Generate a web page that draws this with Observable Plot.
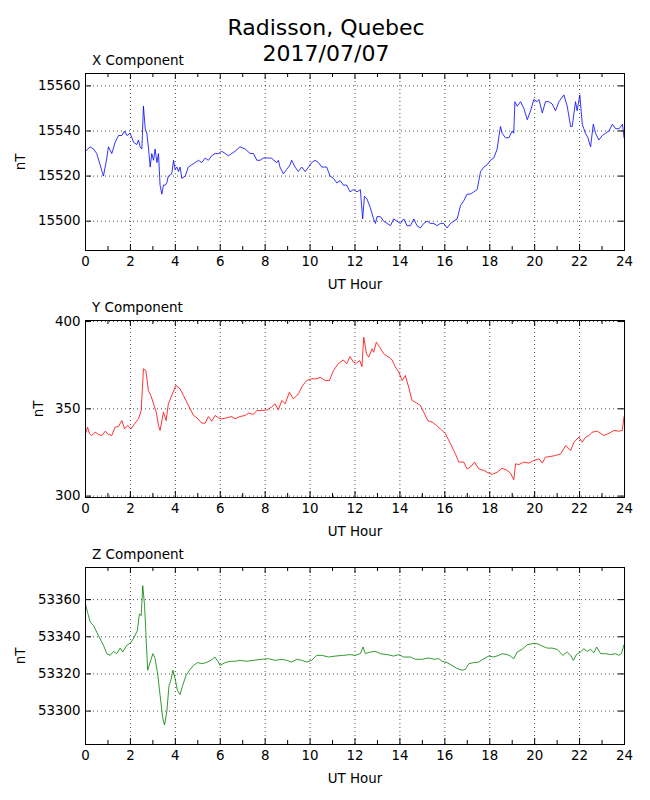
<!DOCTYPE html>
<html><head><meta charset="utf-8">
<script src="https://cdn.jsdelivr.net/npm/d3@7"></script>
<script src="https://cdn.jsdelivr.net/npm/@observablehq/plot@0.6"></script>
<style>
body{margin:0;background:#fff;font-family:"DejaVu Sans",sans-serif;}
#root{position:relative;width:650px;height:800px;overflow:hidden;background:#fff;}
.t{position:absolute;white-space:nowrap;color:#000;font-family:"DejaVu Sans",sans-serif;line-height:1.164;}
.p{position:absolute;left:0;}
</style></head><body><div id="root"></div>
<script>
// ---- data (UT hour, nT) ----
const xComponent = [[0.00,15531],[0.21,15533],[0.36,15532],[0.50,15530],[0.65,15525],[0.80,15520],[0.95,15528],[1.02,15533],[1.17,15530],[1.32,15535],[1.47,15538],[1.62,15538],[1.74,15540],[1.84,15538],[1.99,15539],[2.14,15535],[2.28,15534],[2.36,15536],[2.43,15533],[2.51,15532],[2.58,15551],[2.66,15541],[2.73,15539],[2.80,15533],[2.88,15524],[2.95,15530],[3.03,15527],[3.10,15532],[3.18,15526],[3.25,15530],[3.32,15516],[3.40,15512],[3.47,15516],[3.55,15516],[3.62,15517],[3.69,15520],[3.84,15521],[3.92,15527],[3.99,15523],[4.07,15524],[4.14,15522],[4.21,15524],[4.29,15519],[4.44,15520],[4.58,15524],[4.73,15525],[4.88,15526],[5.03,15527],[5.18,15526],[5.33,15528],[5.47,15527],[5.62,15529],[5.77,15530],[5.92,15530],[6.07,15531],[6.22,15530],[6.36,15529],[6.51,15530],[6.66,15531],[6.88,15533],[7.11,15532],[7.33,15530],[7.48,15530],[7.63,15527],[7.77,15527],[7.92,15528],[8.15,15528],[8.29,15528],[8.37,15527],[8.52,15526],[8.59,15527],[8.66,15524],[8.81,15521],[8.96,15523],[9.11,15525],[9.18,15527],[9.33,15524],[9.48,15522],[9.63,15524],[9.78,15522],[9.93,15524],[10.07,15526],[10.22,15527],[10.37,15526],[10.52,15524],[10.74,15524],[10.89,15520],[11.04,15519],[11.19,15517],[11.34,15518],[11.48,15516],[11.63,15516],[11.78,15513],[11.93,15514],
[12.09,15513],[12.24,15514],[12.34,15501],[12.42,15511],[12.53,15510],[12.68,15506],[12.83,15501],[12.91,15499],[12.98,15502],[13.13,15502],[13.28,15500],[13.43,15499],[13.58,15498],[13.72,15501],[13.87,15500],[14.02,15499],[14.17,15501],[14.32,15498],[14.47,15498],[14.62,15501],[14.76,15498],[14.91,15497],[15.06,15499],[15.21,15500],[15.36,15499],[15.51,15499],[15.66,15498],[15.80,15499],[15.95,15499],[16.10,15497],[16.25,15499],[16.40,15500],[16.55,15501],[16.70,15507],[16.84,15509],[16.99,15512],[17.14,15512],[17.29,15513],[17.44,15514],[17.59,15522],[17.74,15524],[17.88,15525],[18.03,15527],[18.18,15528],[18.33,15532],[18.40,15537],[18.48,15542],[18.55,15539],[18.70,15537],[18.85,15537],[19.00,15540],[19.07,15539],[19.12,15553],[19.22,15551],[19.37,15553],[19.52,15550],[19.67,15545],[19.82,15549],[19.96,15554],[20.11,15553],[20.19,15554],[20.34,15548],[20.48,15553],[20.63,15553],[20.78,15552],[20.93,15549],[21.08,15553],[21.30,15556],[21.45,15551],[21.60,15542],[21.67,15542],[21.82,15553],[21.89,15549],[22.01,15556],[22.12,15543],[22.19,15541],[22.26,15539],[22.37,15537],[22.49,15533],[22.61,15543],[22.71,15539],[22.86,15536],[23.01,15538],[23.16,15539],[23.31,15540],[23.46,15543],[23.61,15541],[23.76,15541],[23.91,15543],[23.98,15537]];

const yComponent = [[0.00,335.7],[0.09,339.5],[0.18,335.7],[0.28,334.7],[0.43,336.6],[0.58,335.3],[0.73,334.7],[0.88,337.2],[1.02,335.3],[1.17,334.7],[1.32,339.5],[1.47,339.9],[1.62,343.3],[1.74,338.5],[1.88,340.5],[2.03,338.5],[2.18,341.4],[2.36,344.3],[2.48,349],[2.58,372.9],[2.69,371.9],[2.80,360.5],[2.91,357.6],[3.03,352.9],[3.15,348.1],[3.25,340.5],[3.32,337.6],[3.47,348.1],[3.59,343.3],[3.69,352.9],[3.84,357.6],[4.02,363.4],[4.21,361.5],[4.36,357.6],[4.51,353.8],[4.66,350],[4.81,346.2],[4.96,344.8],[5.18,341.8],[5.33,341.8],[5.47,345.6],[5.62,342.9],[5.77,346.2],[5.92,344.8],[6.07,344.3],[6.29,344.8],[6.51,345.6],[6.66,344.3],[6.88,345.6],[7.11,346.2],[7.26,347.5],[7.48,346.8],[7.63,349],[7.85,349],[8.07,349.4],[8.29,351],[8.44,352.9],[8.59,349.4],[8.74,354.8],[8.89,352.9],[9.08,359.5],[9.26,355.7],[9.48,358.6],[9.67,363.4],[9.85,366.2],[10.07,367.2],[10.30,367.2],[10.45,368.1],[10.67,366.2],[10.86,366.2],[11.04,371.9],[11.27,376.1],[11.48,378],[11.63,375.8],[11.78,380],[11.93,376.7],
[12.06,376.1],[12.21,377.7],[12.31,374.2],[12.39,391],[12.51,381.5],[12.61,379.6],[12.76,384.4],[12.83,382.4],[12.95,388.2],[13.10,385.3],[13.28,381.5],[13.50,379.6],[13.65,378],[13.80,373.9],[13.95,371],[14.10,366.2],[14.24,369.1],[14.39,362.4],[14.54,354.8],[14.76,353.2],[14.91,351.9],[15.06,348.1],[15.24,343.3],[15.43,342.4],[15.63,340.5],[15.80,338.5],[16.03,335.7],[16.25,330],[16.47,324.2],[16.62,319.5],[16.84,319.5],[16.99,315.6],[17.14,316.6],[17.32,319.5],[17.51,315.6],[17.74,314.7],[17.88,313.7],[18.11,312.4],[18.33,313.7],[18.55,316],[18.78,314.7],[18.92,313.2],[19.07,309.4],[19.15,318.5],[19.30,318.1],[19.52,319.5],[19.74,318.9],[19.96,320.4],[20.19,321.4],[20.34,318.9],[20.48,322.3],[20.71,322.7],[20.93,323.3],[21.16,324.2],[21.38,329],[21.60,326.1],[21.75,330.9],[21.97,333.8],[22.12,330.9],[22.27,333.8],[22.42,334.7],[22.56,336.6],[22.79,337.2],[23.08,334.7],[23.31,336],[23.53,337.6],[23.75,337.2],[23.90,337.6],[23.98,345.6]];

const zComponent = [[0.00,53357.7],[0.09,53353.2],[0.21,53347.9],[0.36,53346],[0.50,53342.5],[0.65,53338.9],[0.80,53335.4],[0.95,53330.9],[1.10,53330],[1.25,53332.1],[1.39,53330.9],[1.54,53333.9],[1.66,53331.8],[1.84,53335.4],[2.02,53336.8],[2.17,53339.8],[2.31,53343.4],[2.40,53352.3],[2.48,53351.4],[2.55,53367.5],[2.63,53356.8],[2.70,53338.9],[2.77,53322],[2.88,53326.4],[3.00,53330.9],[3.10,53328.2],[3.22,53319.3],[3.32,53308.6],[3.44,53296.1],[3.52,53292.5],[3.62,53299.6],[3.72,53313.9],[3.80,53316.6],[3.89,53322],[3.99,53317.5],[4.09,53311.2],[4.21,53308.9],[4.33,53313.9],[4.48,53319.3],[4.63,53322],[4.81,53324.6],[4.99,53326.1],[5.18,53325.5],[5.37,53326.1],[5.58,53327.3],[5.76,53329.1],[5.89,53326.8],[5.99,53324.6],[6.22,53326.1],[6.44,53326.8],[6.66,53326.8],[6.88,53327.3],[7.18,53326.8],[7.48,53327.3],[7.85,53327.9],[8.15,53328.2],[8.44,53327.3],[8.74,53327.9],[8.96,53327.3],[9.18,53326.4],[9.41,53327.9],[9.63,53327.3],[9.85,53326.4],[10.07,53327.3],[10.30,53330],[10.52,53330],[10.82,53329.1],[11.11,53329.6],[11.48,53330],[11.78,53330.4],
[12.01,53330],[12.24,53330.9],[12.36,53334.5],[12.46,53330.9],[12.68,53331.8],[12.91,53332.1],[13.13,53330.9],[13.43,53330.4],[13.72,53329.6],[13.95,53330.4],[14.17,53329.1],[14.47,53329.1],[14.69,53327.9],[14.99,53327.9],[15.28,53328.6],[15.51,53327.9],[15.73,53328.2],[15.88,53326.8],[16.10,53326.1],[16.32,53324.6],[16.55,53322.9],[16.77,53322],[16.92,53322.5],[17.07,53325.5],[17.29,53326.1],[17.51,53326.4],[17.74,53328.2],[17.96,53329.6],[18.18,53329.1],[18.40,53330],[18.55,53330.9],[18.78,53330.4],[18.92,53329.6],[19.07,53328.2],[19.22,53331.8],[19.44,53333.2],[19.67,53335.7],[19.89,53336.3],[20.11,53336.3],[20.34,53335],[20.56,53333.9],[20.78,53333.9],[21.00,53333.2],[21.15,53331.4],[21.25,53330],[21.45,53331.8],[21.60,53330],[21.72,53327.3],[21.86,53330.4],[22.04,53331.8],[22.19,53333.6],[22.34,53332.1],[22.49,53333.2],[22.64,53331.4],[22.76,53334.5],[22.94,53330.9],[23.16,53330.9],[23.38,53330.4],[23.61,53330.9],[23.75,53330],[23.86,53330.9],[23.98,53335.7]];

const hourLabels = [0,2,4,6,8,10,12,14,16,18,20,22,24];
const hourMinor = [1,3,5,7,9,11,13,15,17,19,21,23];
const xTicks = [15500,15520,15540,15560];
const yTicks = [300,350,400];
const zTicks = [53300,53320,53340,53360];
const titleLines = ["Radisson, Quebec","2017/07/07"];
const panelTitles = ["X Component","Y Component","Z Component"];

// ---- layout ----
const root = document.getElementById("root");
function addText(txt, left, baseline, size, center){
  const d = document.createElement("div");
  d.className = "t";
  d.textContent = txt;
  d.style.fontSize = size + "px";
  d.style.top = (baseline - 0.928*size) + "px";
  if (center){ d.style.left = "0px"; d.style.width = (2*left) + "px"; d.style.textAlign = "center"; }
  else d.style.left = left + "px";
  root.appendChild(d);
}
addText(titleLines[0], 326, 35.5, 22, true);
addText(titleLines[1], 326, 61.5, 22, true);

const W = 650, ML = 85, MR = 26, MT = 20, MB = 48, IH = 177;
const IW = W - ML - MR;
const panels = [
  {title: panelTitles[0], data: xComponent, color: "#0000ff", domain: [15487, 15565.5], ticks: xTicks, top: 52.5, labelOffset: 70},
  {title: panelTitles[1], data: yComponent, color: "#ff0000", domain: [299.2, 400.6], ticks: yTicks, top: 299.5, labelOffset: 52},
  {title: panelTitles[2], data: zComponent, color: "#008000", domain: [53282, 53377.3], ticks: zTicks, top: 546.5, labelOffset: 70}
];

for (const p of panels) {
  addText(p.title, 92, p.top + 13, 13.5, false);
  const chart = Plot.plot({
    width: W, height: MT + IH + MB,
    marginLeft: ML, marginRight: MR, marginTop: MT, marginBottom: MB,
    style: {fontFamily: "DejaVu Sans", fontSize: "13.4px", color: "#000", background: "transparent", overflow: "visible"},
    x: {domain: [0, 24]},
    y: {domain: p.domain},
    marks: [
      Plot.gridX(hourLabels, {stroke: "#000", strokeOpacity: 1, strokeWidth: 0.7, strokeDasharray: "1,3"}),
      Plot.gridY(p.ticks, {stroke: "#000", strokeOpacity: 1, strokeWidth: 0.7, strokeDasharray: "1,3"}),
      Plot.line(p.data, {x: d => d[0], y: d => d[1], stroke: p.color, strokeWidth: 0.8}),
      Plot.tickX(hourLabels, {x: d => d, insetTop: IH - 6, stroke: "#000"}),
      Plot.tickX(hourLabels, {x: d => d, insetBottom: IH - 6, stroke: "#000"}),
      Plot.tickX(hourMinor, {x: d => d, insetTop: IH - 4, stroke: "#000"}),
      Plot.tickX(hourMinor, {x: d => d, insetBottom: IH - 4, stroke: "#000"}),
      Plot.tickY(p.ticks, {y: d => d, insetRight: IW - 6, stroke: "#000"}),
      Plot.tickY(p.ticks, {y: d => d, insetLeft: IW - 6, stroke: "#000"}),
      Plot.frame({stroke: "#000", strokeWidth: 1}),
      Plot.axisX(hourLabels, {tickSize: 0, tickPadding: 6, label: "UT Hour", labelAnchor: "center", labelArrow: "none", labelOffset: 38, tickFormat: d => String(d)}),
      Plot.axisY(p.ticks, {tickSize: 0, tickPadding: 5, label: "nT", labelAnchor: "center", labelArrow: "none", labelOffset: p.labelOffset, tickFormat: d => String(d)})
    ]
  });
  const wrap = document.createElement("div");
  wrap.className = "p";
  wrap.style.top = p.top + "px";
  wrap.appendChild(chart);
  root.appendChild(wrap);
}
</script></body></html>
